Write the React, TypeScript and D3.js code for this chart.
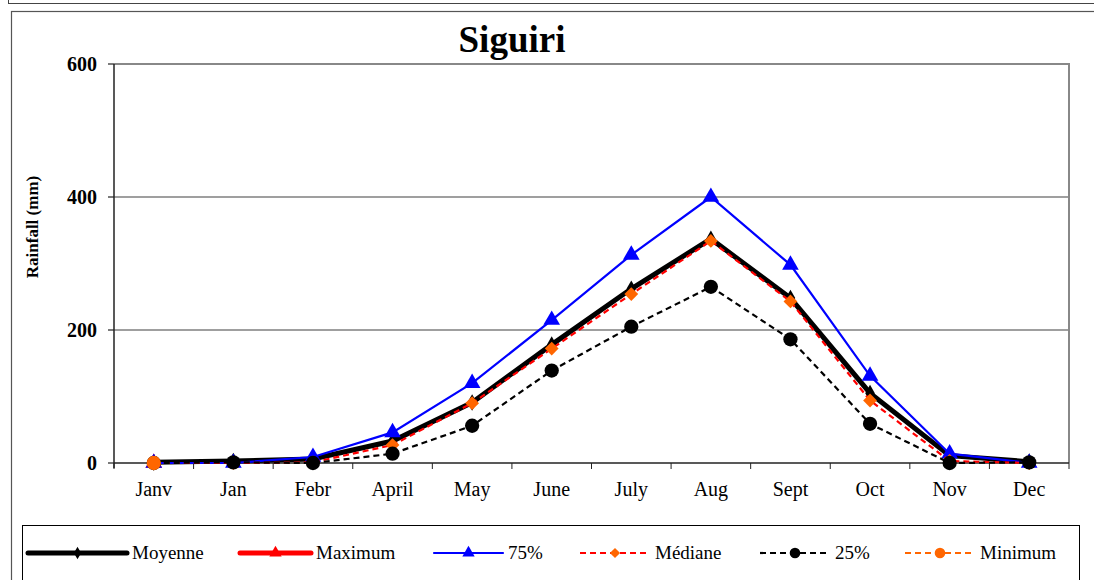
import React from "react";
import * as d3 from "d3";

const months = ["Janv", "Jan", "Febr", "April", "May", "June", "July", "Aug", "Sept", "Oct", "Nov", "Dec"];
const moyenne: (number | null)[] = [1, 3, 6, 33, 91, 178, 262, 337, 248, 105, 11, 2];
const maximum: (number | null)[] = [0, null, null, null, null, null, null, null, null, null, null, null];
const p75: (number | null)[] = [0, 0, 9, 46, 120, 215, 313, 400, 298, 131, 14, 0];
const mediane: (number | null)[] = [0, 0, 1, 27, 90, 172, 254, 334, 243, 94, 3, 0];
const p25: (number | null)[] = [0, 1, 0, 14, 56, 139, 205, 265, 186, 59, 0, 1];
const minimum: (number | null)[] = [0, null, null, null, null, null, null, null, null, null, null, null];
const yTicks = [0, 200, 400, 600];

const FONT = "'Liberation Serif', 'Times New Roman', serif";

type Series = {
  name: string;
  values: (number | null)[];
  color: string;
  width: number;
  dash?: string;
  marker: "diamond" | "triangle" | "circle" | "sqdiamond";
  markerColor: string;
  markerSize: number;
};

const series: Series[] = [
  { name: "Moyenne", values: moyenne, color: "#000000", width: 5, marker: "diamond", markerColor: "#000000", markerSize: 80 },
  { name: "Maximum", values: maximum, color: "#ff0000", width: 5, marker: "triangle", markerColor: "#ff0000", markerSize: 120 },
  { name: "75%", values: p75, color: "#0000ff", width: 2.2, marker: "triangle", markerColor: "#0000ff", markerSize: 120 },
  { name: "Médiane", values: mediane, color: "#ff0000", width: 2.2, dash: "6,4", marker: "sqdiamond", markerColor: "#ff6600", markerSize: 95 },
  { name: "25%", values: p25, color: "#000000", width: 2.2, dash: "6,4", marker: "circle", markerColor: "#000000", markerSize: 160 },
  { name: "Minimum", values: minimum, color: "#ff6600", width: 2.2, dash: "6,4", marker: "circle", markerColor: "#ff6600", markerSize: 160 },
];

function symbolPath(kind: Series["marker"], size: number) {
  const t =
    kind === "diamond" ? d3.symbolDiamond : kind === "triangle" ? d3.symbolTriangle : kind === "circle" ? d3.symbolCircle : d3.symbolSquare;
  return d3.symbol().type(t).size(size)() as string;
}

export default function App() {
  const W = 1094, H = 580;
  const left = 114, right = 1069, top = 64, bottom = 463;
  const x = d3.scaleBand<string>().domain(months).range([left, right]).padding(0);
  const bw = x.bandwidth();
  const cx = (m: string) => (x(m) as number) + bw / 2;
  const y = d3.scaleLinear().domain([0, 600]).range([bottom, top]);

  const line = d3
    .line<[string, number | null]>()
    .defined((d) => d[1] !== null)
    .x((d) => cx(d[0]))
    .y((d) => y(d[1] as number));

  const legendItems = [
    { s: series[0], x0: 28, x1: 127 },
    { s: series[1], x0: 240, x1: 311 },
    { s: series[2], x0: 434, x1: 503 },
    { s: series[3], x0: 580, x1: 650 },
    { s: series[4], x0: 760, x1: 830 },
    { s: series[5], x0: 905, x1: 975 },
  ];
  const ly = 553;

  return (
    <svg width={W} height={H} style={{ position: "absolute", left: 0, top: 0, background: "#fff" }} fontFamily={FONT}>
      <rect x={0} y={0} width={W} height={H} fill="#fff" />
      <line x1={8} y1={3.5} x2={W} y2={3.5} stroke="#444" strokeWidth={1.2} />
      <line x1={8.5} y1={0} x2={8.5} y2={3.5} stroke="#444" strokeWidth={1} />
      <rect x={11.5} y={11.5} width={W} height={H} fill="none" stroke="#555" strokeWidth={1.2} />

      <text x={512} y={52} textAnchor="middle" fontSize={37} fontWeight="bold" fontFamily={FONT}>Siguiri</text>

      {yTicks.filter((t) => t > 0 && t < 600).map((t) => (
        <line key={t} x1={left} x2={right} y1={y(t)} y2={y(t)} stroke="#404040" strokeWidth={1.2} />
      ))}
      <line x1={left} x2={right + 1} y1={top} y2={top} stroke="#888" strokeWidth={2} />
      <line x1={right} x2={right} y1={top} y2={bottom} stroke="#888" strokeWidth={2} />

      <line x1={left} x2={left} y1={top} y2={bottom + 5} stroke="#222" strokeWidth={1.5} />
      {yTicks.map((t) => (
        <g key={t}>
          <line x1={left - 6} x2={left} y1={y(t)} y2={y(t)} stroke="#222" strokeWidth={1.2} />
          <text x={97} y={y(t) + 7} textAnchor="end" fontSize={20} fontWeight="bold" fontFamily={FONT}>{t}</text>
        </g>
      ))}
      <line x1={left} x2={right} y1={bottom} y2={bottom} stroke="#222" strokeWidth={1.5} />
      {d3.range(months.length + 1).map((i) => (
        <line key={i} x1={left + i * bw} x2={left + i * bw} y1={bottom} y2={bottom + 6} stroke="#222" strokeWidth={1} />
      ))}
      {months.map((m) => (
        <text key={m} x={cx(m)} y={496} textAnchor="middle" fontSize={20} fontFamily={FONT}>{m}</text>
      ))}

      <text transform={`translate(38,${227}) rotate(-90)`} textAnchor="middle" fontSize={17} fontWeight="bold" fontFamily={FONT}>Rainfall (mm)</text>

      {series.map((s) => {
        const pts = months.map((m, i) => [m, s.values[i]] as [string, number | null]);
        return (
          <g key={s.name}>
            <path d={line(pts) || ""} fill="none" stroke={s.color} strokeWidth={s.width} strokeDasharray={s.dash} strokeLinejoin="miter" />
            {pts.filter((p) => p[1] !== null).map((p) => (
              <path
                key={p[0]}
                d={symbolPath(s.marker, s.markerSize)}
                transform={`translate(${cx(p[0])},${y(p[1] as number)})${s.marker === "sqdiamond" ? " rotate(45)" : ""}`}
                fill={s.markerColor}
              />
            ))}
          </g>
        );
      })}

      <rect x={22.5} y={525.5} width={1057} height={100} fill="#fff" stroke="#000" strokeWidth={1} />
      {legendItems.map(({ s, x0, x1 }) => (
        <g key={s.name}>
          <line x1={x0} x2={x1} y1={ly} y2={ly} stroke={s.color} strokeWidth={s.width} strokeDasharray={s.dash} strokeLinecap={s.dash ? "butt" : "round"} />
          <path
            d={symbolPath(s.marker, s.markerSize * 0.55)}
            transform={`translate(${(x0 + x1) / 2},${ly})${s.marker === "sqdiamond" ? " rotate(45)" : ""}`}
            fill={s.markerColor}
          />
          <text x={x1 + 5} y={ly + 6} fontSize={19} fontFamily={FONT}>{s.name}</text>
        </g>
      ))}
    </svg>
  );
}
